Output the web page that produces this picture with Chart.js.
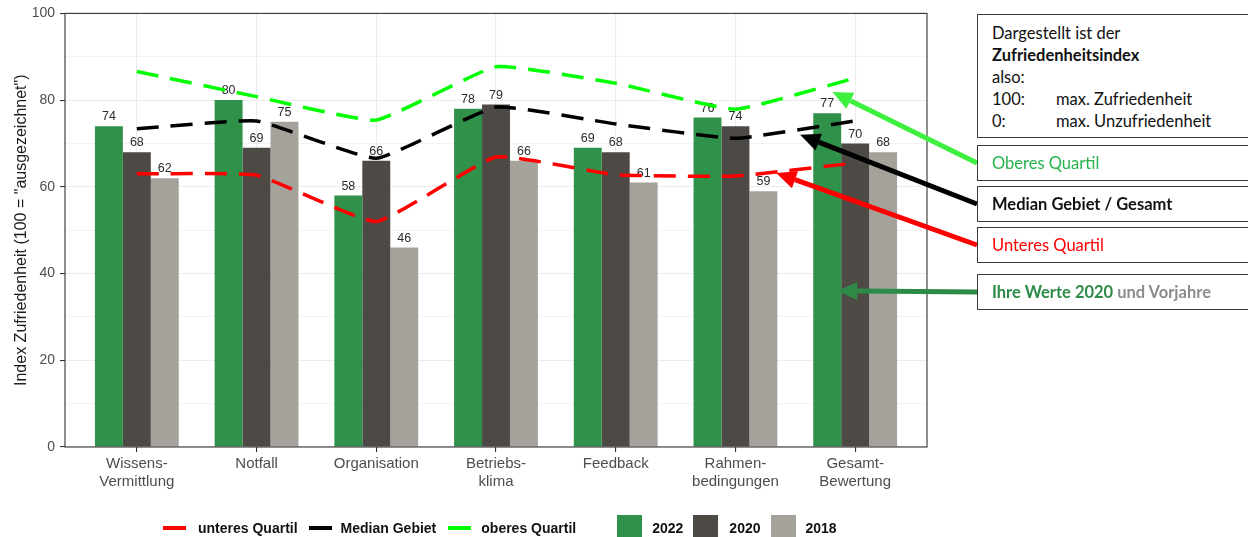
<!DOCTYPE html>
<html lang="de">
<head>
<meta charset="utf-8">
<title>Zufriedenheitsindex</title>
<script src="https://cdn.jsdelivr.net/npm/chart.js@4/dist/chart.umd.min.js"></script>
<style>
    html, body {
        margin: 0;
        padding: 0;
        background: #fff;
    }
    #page {
        position: relative;
        width: 1248px;
        height: 537px;
        overflow: hidden;
    }
    #chartWrap {
        position: absolute;
        left: 0;
        top: 0;
        width: 1248px;
        height: 537px;
    }
    .note {
        position: absolute;
        left: 977px;
        width: 300px;
        box-sizing: border-box;
        border: 1.5px solid #3a3a3a;
        background: #fff;
        font-family: Lato, 'Noto Sans', sans-serif;
        font-size: 16.5px;
        padding-left: 14px;
        display: flex;
        align-items: center;
    }
    #noteMain {
        top: 14px;
        height: 124px;
        display: block;
        padding-top: 7px;
        line-height: 22px;
        color: #111;
    }
    #noteMain .col {
        display: inline-block;
        width: 64px;
    }
    #legend {
        position: absolute;
        left: 163px;
        top: 515px;
        height: 26px;
        display: flex;
        align-items: center;
        font-family: 'Liberation Sans', Arial, sans-serif;
        font-weight: bold;
        font-size: 14px;
        color: #111;
    }
    .swatch-line {
        width: 23px;
        height: 4px;
    }
    .swatch-box {
        width: 25px;
        height: 26px;
    }
</style>
</head>
<body>
<div id="page">
    <div id="chartWrap"><canvas id="satisfactionChart"></canvas></div>

    <div class="note" id="noteMain">
        Dargestellt ist der<br>
        <b>Zufriedenheitsindex</b><br>
        also:<br>
        <span class="col">100:</span>max. Zufriedenheit<br>
        <span class="col">0:</span>max. Unzufriedenheit
    </div>
    <div class="note" id="noteUpper" style="top:145px;height:36px;color:#25b34b;">Oberes Quartil</div>
    <div class="note" id="noteMedian" style="top:186px;height:36px;color:#111;font-weight:bold;">Median Gebiet / Gesamt</div>
    <div class="note" id="noteLower" style="top:227px;height:36px;color:#ff0000;">Unteres Quartil</div>
    <div class="note" id="noteOwn" style="top:274px;height:36px;font-weight:bold;">
        <span style="color:#2e8b47;">Ihre Werte 2020</span>&nbsp;<span style="color:#8c8c8c;">und Vorjahre</span>
    </div>

    <div id="legend"></div>
</div>

<script>
const categories = [
    ['Wissens-', 'Vermittlung'],
    ['Notfall'],
    ['Organisation'],
    ['Betriebs-', 'klima'],
    ['Feedback'],
    ['Rahmen-', 'bedingungen'],
    ['Gesamt-', 'Bewertung'],
];

const values2022 = [74, 80, 58, 78, 69, 76, 77];
const values2020 = [68, 69, 66, 79, 68, 74, 70];
const values2018 = [62, 75, 46, 66, 61, 59, 68];

const lowerQuartile = [63.0, 62.7, 52.0, 66.9, 62.8, 62.5, 65.5];
const medianArea = [73.4, 75.2, 66.6, 78.4, 74.5, 71.2, 75.2];
const upperQuartile = [86.6, 80.8, 75.4, 87.7, 83.9, 77.9, 85.1];

const yTicks = [0, 20, 40, 60, 80, 100];

// arrow tips in data units, tails start at the note boxes
const arrowTargets = [
    { box: 'noteUpper', x: 6.81, y: 81.9, color: '#3ef03e' },
    { box: 'noteMedian', x: 6.54, y: 72.0, color: '#000000' },
    { box: 'noteLower', x: 6.34, y: 63.2, color: '#ff0000' },
    { box: 'noteOwn', x: 6.85, y: 36.0, color: '#2e8b47' },
];

const toPoints = (values) => values.map((value, index) => ({ x: index + 1, y: value }));

const barDataset = (label, values, color) => ({
    type: 'bar',
    label,
    data: toPoints(values),
    backgroundColor: color,
    borderWidth: 0,
    categoryPercentage: 0.7,
    barPercentage: 1.0,
    order: 1,
});

const lineDataset = (label, values, color) => ({
    type: 'line',
    label,
    data: toPoints(values),
    borderColor: color,
    backgroundColor: color,
    borderWidth: 3.5,
    borderDash: [22, 12],
    pointRadius: 0,
    tension: 0.12,
    fill: false,
    order: 0,
});

const datasets = [
    barDataset('2022', values2022, '#30914a'),
    barDataset('2020', values2020, '#4d4a46'),
    barDataset('2018', values2018, '#a5a29b'),
    lineDataset('unteres Quartil', lowerQuartile, '#ff0000'),
    lineDataset('Median Gebiet', medianArea, '#000000'),
    lineDataset('oberes Quartil', upperQuartile, '#00ff00'),
];

const barLabels = {
    id: 'barLabels',
    afterDatasetDraw(chart, args) {
        if (args.meta.type !== 'bar') {
            return;
        }
        const { ctx } = chart;
        ctx.save();
        ctx.font = '12.5px "Liberation Sans", Arial, sans-serif';
        ctx.fillStyle = '#2b2b2b';
        ctx.textAlign = 'center';
        ctx.textBaseline = 'bottom';
        args.meta.data.forEach((bar, index) => {
            const value = chart.data.datasets[args.index].data[index].y;
            ctx.fillText(String(value), bar.x, bar.y - 3);
        });
        ctx.restore();
    },
};

const panelFrame = {
    id: 'panelFrame',
    afterDraw(chart) {
        const { ctx, chartArea } = chart;
        ctx.save();
        ctx.strokeStyle = '#333333';
        ctx.lineWidth = 1.1;
        ctx.strokeRect(chartArea.left, chartArea.top, chartArea.right - chartArea.left, chartArea.bottom - chartArea.top);
        ctx.restore();
    },
};

const noteArrows = {
    id: 'noteArrows',
    afterDraw(chart) {
        const { ctx } = chart;
        const xScale = chart.scales.x;
        const yScale = chart.scales.y;
        ctx.save();
        arrowTargets.forEach((arrow) => {
            const box = document.getElementById(arrow.box);
            const x0 = box.offsetLeft;
            const y0 = box.offsetTop + box.offsetHeight / 2;
            const x1 = xScale.getPixelForValue(arrow.x);
            const y1 = yScale.getPixelForValue(arrow.y);
            const angle = Math.atan2(y1 - y0, x1 - x0);
            const headLength = 20;
            const headHalf = 9;
            const baseX = x1 - headLength * Math.cos(angle);
            const baseY = y1 - headLength * Math.sin(angle);

            ctx.strokeStyle = arrow.color;
            ctx.fillStyle = arrow.color;
            ctx.lineWidth = 5;
            ctx.beginPath();
            ctx.moveTo(x0, y0);
            ctx.lineTo(baseX, baseY);
            ctx.stroke();

            ctx.beginPath();
            ctx.moveTo(x1, y1);
            ctx.lineTo(baseX + headHalf * Math.sin(angle), baseY - headHalf * Math.cos(angle));
            ctx.lineTo(baseX - headHalf * Math.sin(angle), baseY + headHalf * Math.cos(angle));
            ctx.closePath();
            ctx.fill();
        });
        ctx.restore();
    },
};

const chart = new Chart(document.getElementById('satisfactionChart'), {
    data: { datasets },
    options: {
        responsive: true,
        maintainAspectRatio: false,
        animation: false,
        layout: {
            padding: { top: 13, right: 321, bottom: 0, left: 0 },
        },
        plugins: {
            legend: { display: false },
            tooltip: { enabled: false },
        },
        scales: {
            x: {
                type: 'linear',
                min: 0.4,
                max: 7.6,
                offset: false,
                afterBuildTicks: (axis) => {
                    axis.ticks = categories.map((_, index) => ({ value: index + 1 }));
                },
                afterFit: (axis) => {
                    axis.height = 90;
                },
                ticks: {
                    autoSkip: false,
                    maxRotation: 0,
                    padding: 3,
                    color: '#4d4d4d',
                    font: { family: '"Liberation Sans", Arial, sans-serif', size: 15, lineHeight: 1.2 },
                    callback: (value) => categories[Math.round(value) - 1] ?? '',
                },
                grid: {
                    offset: false,
                    color: '#ebebeb',
                    lineWidth: 1.1,
                    tickColor: '#333333',
                    tickLength: 5,
                    tickWidth: 1.1,
                },
                border: { display: false },
            },
            y: {
                min: 0,
                max: 100,
                afterBuildTicks: (axis) => {
                    const all = [];
                    for (let v = 0; v <= 100; v += 10) {
                        all.push({ value: v });
                    }
                    axis.ticks = all;
                },
                afterFit: (axis) => {
                    axis.width = 65;
                },
                ticks: {
                    padding: 5,
                    color: '#4d4d4d',
                    font: { family: '"Liberation Sans", Arial, sans-serif', size: 14 },
                    callback: (value) => (yTicks.includes(value) ? String(value) : ''),
                },
                grid: {
                    color: '#ebebeb',
                    lineWidth: (ctx) => (yTicks.includes(ctx.tick?.value) ? 1.1 : 0.6),
                    tickColor: (ctx) => (yTicks.includes(ctx.tick?.value) ? '#333333' : 'rgba(0,0,0,0)'),
                    tickLength: 5,
                    tickWidth: 1.1,
                },
                border: { display: false },
                title: {
                    display: true,
                    text: 'Index Zufriedenheit (100 = "ausgezeichnet")',
                    color: '#1a1a1a',
                    font: { family: '"Liberation Sans", Arial, sans-serif', size: 16 },
                    padding: { top: 12, bottom: 0 },
                },
            },
        },
    },
    plugins: [barLabels, panelFrame, noteArrows],
});

// legend below the panel: line series first, then bar years
const legendRoot = document.getElementById('legend');
const legendGaps = [
    [12, 11], [9, 12], [10, 41], [10, 10], [11, 10], [10, 0],
];
const legendOrder = [3, 4, 5, 0, 1, 2];

legendOrder.forEach((datasetIndex, position) => {
    const dataset = chart.data.datasets[datasetIndex];
    const swatch = document.createElement('span');
    swatch.className = dataset.type === 'line' ? 'swatch-line' : 'swatch-box';
    swatch.style.background = dataset.type === 'line' ? dataset.borderColor : dataset.backgroundColor;
    swatch.style.marginRight = `${legendGaps[position][0]}px`;

    const text = document.createElement('span');
    text.textContent = dataset.label;
    text.style.marginRight = `${legendGaps[position][1]}px`;

    legendRoot.appendChild(swatch);
    legendRoot.appendChild(text);
});
</script>
</body>
</html>
